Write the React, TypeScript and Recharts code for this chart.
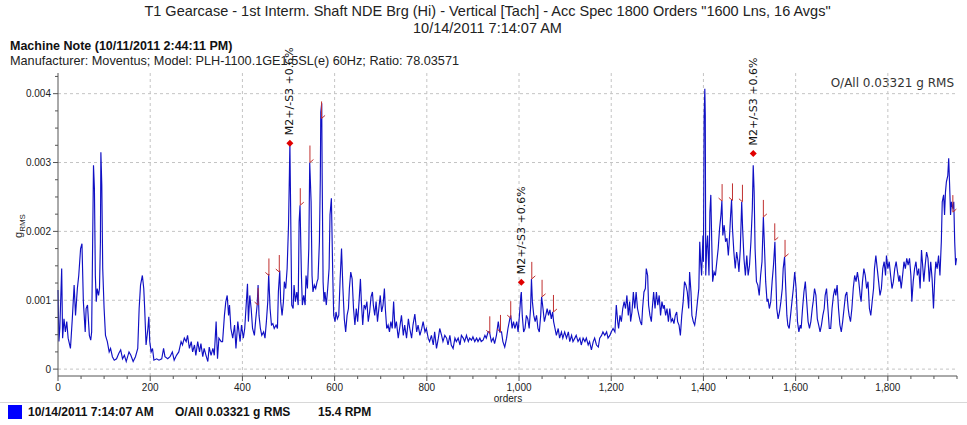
import React from "react";
import { CartesianGrid, ComposedChart, Line, Scatter, XAxis, YAxis } from "recharts";

const NARROW = '"Liberation Sans Narrow", "Arial Narrow", "Liberation Sans", Arial, sans-serif';
const SANS = '"DejaVu Sans", Verdana, sans-serif';

const titleLines = [
  'T1 Gearcase - 1st Interm. Shaft NDE Brg (Hi) - Vertical [Tach] - Acc Spec 1800 Orders "1600 Lns, 16 Avgs"',
  "10/14/2011 7:14:07 AM",
];
const machineNote = "Machine Note (10/11/2011 2:44:11 PM)";
const machineInfo = "Manufacturer: Moventus; Model: PLH-1100.1GE1.5SL(e) 60Hz; Ratio: 78.03571";
const overallText = "O/All 0.03321 g RMS";
const legendItems = ["10/14/2011 7:14:07 AM", "O/All 0.03321 g RMS", "15.4 RPM"];
const peakLabel = "M2+/-S3 +0.6%";

const xTicks = Array.from({ length: 40 }, (_, i) => i * 50);
const xGrid = [200, 400, 600, 800, 1000, 1200, 1400, 1600, 1800];
const yTicks = Array.from({ length: 18 }, (_, i) => i * 0.00025);
const yGrid = [0, 0.001, 0.002, 0.003, 0.004];

// [order, amplitude in mg RMS]
const spectrumMg: [number, number][] = [
  [0, 1.15], [2, 0.4], [4, 0.6], [8, 1.46], [10, 0.45], [13, 0.73], [16, 0.54], [19, 0.69], [22, 0.45],
  [27, 0.3], [31, 0.73], [35, 1.22], [38, 0.78], [42, 1.17], [45, 1.36], [49, 1.75], [52, 1.82], [55, 0.98],
  [59, 0.54], [61, 0.88], [64, 0.93], [68, 0.49], [71, 0.42], [73, 0.54], [75, 1.75], [77, 2.96], [79, 2.62],
  [81, 1.36], [83, 0.98], [85, 1.17], [88, 1.07], [90, 1.17], [92, 1.85], [93, 3.15], [95, 2.67], [97, 1.46],
  [100, 0.88], [103, 0.49], [107, 0.4], [111, 0.25], [114, 0.3], [118, 0.18], [122, 0.13], [127, 0.15],
  [132, 0.23], [136, 0.28], [140, 0.15], [144, 0.2], [148, 0.11], [154, 0.25], [158, 0.2], [163, 0.11],
  [168, 0.18], [173, 0.3], [176, 0.88], [179, 1.22], [183, 1.36], [186, 1.17], [188, 0.88], [191, 0.35],
  [195, 0.59], [197, 0.76], [199, 0.4], [202, 0.25], [205, 0.3], [208, 0.13], [214, 0.15], [219, 0.13],
  [225, 0.15], [229, 0.3], [232, 0.18], [238, 0.15], [243, 0.18], [248, 0.25], [252, 0.13], [257, 0.2],
  [262, 0.25], [267, 0.4], [270, 0.35], [274, 0.45], [278, 0.4], [281, 0.49], [285, 0.3], [289, 0.4],
  [292, 0.25], [296, 0.35], [299, 0.2], [303, 0.4], [307, 0.25], [310, 0.37], [314, 0.18], [317, 0.3],
  [321, 0.2], [325, 0.11], [328, 0.32], [332, 0.2], [336, 0.3], [339, 0.2], [343, 0.69], [346, 0.15],
  [349, 0.45], [354, 0.4], [357, 0.4], [361, 0.78], [364, 0.98], [367, 1.07], [370, 0.78], [372, 0.93],
  [375, 0.59], [379, 0.45], [383, 0.64], [386, 0.3], [390, 0.69], [395, 0.4], [398, 0.64], [402, 0.45],
  [405, 0.59], [409, 1.02], [411, 1.24], [413, 0.69], [416, 1.07], [419, 0.88], [422, 0.59], [426, 0.49],
  [429, 0.73], [432, 0.93], [434, 1.22], [436, 0.78], [439, 0.59], [442, 0.49], [446, 0.54], [449, 0.45],
  [452, 0.69], [455, 0.98], [457, 1.38], [460, 0.88], [463, 0.64], [466, 0.66], [469, 0.59], [473, 0.64],
  [476, 0.59], [478, 1.12], [481, 1.43], [483, 0.98], [486, 0.78], [489, 0.98], [491, 1.27], [494, 1.17],
  [497, 1.46], [500, 2.09], [502, 2.86], [503, 3.28], [505, 2.09], [507, 0.93], [510, 0.88], [512, 1.22],
  [515, 0.98], [518, 1.12], [521, 0.93], [523, 2.14], [525, 2.38], [528, 1.36], [530, 0.93], [533, 1.07],
  [536, 0.93], [538, 1.36], [541, 1.17], [544, 1.75], [546, 3.0], [549, 2.43], [551, 1.36], [553, 1.12],
  [556, 1.22], [559, 1.17], [562, 1.27], [564, 1.31], [567, 1.85], [569, 2.77], [570, 3.73], [572, 3.86],
  [573, 2.81], [575, 1.27], [577, 0.98], [579, 1.12], [582, 0.93], [585, 1.17], [588, 1.46], [590, 2.24],
  [593, 2.48], [596, 1.36], [598, 0.78], [601, 0.69], [603, 0.83], [606, 0.73], [609, 0.78], [612, 1.31],
  [615, 1.75], [618, 1.17], [621, 0.73], [624, 0.54], [627, 0.78], [630, 0.88], [632, 1.17], [635, 1.41],
  [638, 1.31], [641, 0.88], [644, 0.64], [647, 0.88], [650, 0.69], [653, 0.98], [656, 1.31], [658, 0.98],
  [661, 0.64], [664, 0.93], [667, 0.88], [670, 0.98], [673, 0.69], [676, 0.83], [679, 1.05], [682, 1.12],
  [684, 0.93], [687, 0.78], [690, 0.98], [693, 0.69], [696, 0.88], [699, 1.07], [702, 0.83], [705, 0.93],
  [708, 1.17], [710, 0.88], [713, 0.59], [716, 0.64], [719, 0.54], [722, 0.69], [725, 0.59], [728, 0.98],
  [731, 0.59], [734, 0.69], [738, 0.45], [741, 0.59], [745, 0.78], [749, 0.49], [752, 0.64], [756, 0.45],
  [760, 0.73], [763, 0.59], [767, 0.45], [770, 0.64], [774, 0.8], [778, 0.54], [781, 0.64], [785, 0.49],
  [789, 0.59], [792, 0.69], [796, 0.54], [799, 0.59], [803, 0.45], [806, 0.4], [810, 0.49], [814, 0.35],
  [817, 0.54], [821, 0.3], [825, 0.45], [828, 0.59], [832, 0.49], [835, 0.4], [839, 0.49], [843, 0.45],
  [846, 0.35], [850, 0.49], [853, 0.35], [857, 0.3], [861, 0.45], [864, 0.4], [868, 0.45], [872, 0.35],
  [875, 0.49], [879, 0.45], [882, 0.4], [886, 0.49], [890, 0.4], [893, 0.45], [897, 0.42], [900, 0.47],
  [904, 0.4], [908, 0.45], [911, 0.4], [915, 0.45], [918, 0.4], [922, 0.42], [926, 0.49], [929, 0.45],
  [933, 0.54], [936, 0.54], [940, 0.4], [944, 0.45], [947, 0.37], [951, 0.49], [955, 0.69], [958, 0.54],
  [962, 0.54], [965, 0.4], [969, 0.32], [973, 0.45], [976, 0.59], [980, 0.73], [982, 0.78], [985, 0.59],
  [988, 0.69], [991, 0.59], [995, 0.69], [998, 0.54], [1002, 0.88], [1004, 1.07], [1005, 1.12], [1007, 0.78],
  [1010, 0.54], [1013, 0.59], [1016, 0.78], [1019, 0.73], [1022, 0.59], [1025, 0.88], [1027, 1.31],
  [1029, 0.98], [1032, 0.78], [1035, 0.69], [1038, 0.78], [1041, 0.59], [1044, 0.54], [1047, 0.78],
  [1049, 1.05], [1052, 0.88], [1055, 0.69], [1058, 0.78], [1061, 0.88], [1064, 0.78], [1067, 0.86],
  [1070, 0.73], [1073, 0.83], [1075, 0.69], [1078, 0.59], [1081, 0.49], [1085, 0.59], [1088, 0.45],
  [1092, 0.54], [1095, 0.45], [1099, 0.54], [1103, 0.45], [1107, 0.54], [1110, 0.4], [1114, 0.49],
  [1117, 0.4], [1121, 0.45], [1124, 0.49], [1128, 0.4], [1132, 0.45], [1135, 0.35], [1139, 0.45],
  [1143, 0.4], [1146, 0.45], [1150, 0.35], [1153, 0.4], [1157, 0.28], [1161, 0.4], [1164, 0.45],
  [1168, 0.35], [1172, 0.32], [1175, 0.45], [1179, 0.49], [1182, 0.54], [1186, 0.49], [1190, 0.54],
  [1193, 0.45], [1197, 0.49], [1200, 0.54], [1204, 0.59], [1208, 0.54], [1211, 0.93], [1214, 0.69],
  [1216, 0.59], [1219, 0.78], [1222, 0.69], [1225, 0.88], [1228, 0.98], [1231, 0.88], [1234, 1.07],
  [1237, 0.78], [1240, 0.98], [1242, 0.69], [1245, 0.83], [1248, 1.12], [1251, 0.88], [1254, 1.12],
  [1257, 0.88], [1260, 0.78], [1263, 0.69], [1266, 0.64], [1268, 0.88], [1271, 1.12], [1274, 1.17],
  [1276, 1.46], [1279, 1.36], [1281, 0.93], [1284, 0.78], [1287, 0.69], [1289, 0.88], [1292, 1.12],
  [1295, 0.88], [1298, 1.12], [1301, 0.93], [1304, 1.07], [1307, 0.78], [1310, 0.98], [1313, 0.88],
  [1315, 0.93], [1318, 0.78], [1321, 0.88], [1324, 0.69], [1327, 0.88], [1330, 0.69], [1333, 0.73],
  [1336, 0.66], [1339, 0.78], [1342, 0.83], [1344, 0.69], [1347, 0.64], [1350, 0.49], [1353, 0.78],
  [1356, 0.98], [1359, 1.27], [1362, 1.22], [1365, 1.12], [1368, 0.88], [1370, 1.41], [1373, 1.12],
  [1375, 0.78], [1378, 0.69], [1381, 0.64], [1384, 0.78], [1387, 0.98], [1390, 1.17], [1392, 1.85],
  [1394, 1.56], [1396, 1.36], [1399, 1.94], [1400, 1.56], [1401.5, 3.64], [1403, 4.07], [1404, 3.69],
  [1405, 1.36], [1407, 1.75], [1409, 1.94], [1412, 1.36], [1414, 2.28], [1416, 2.53], [1418, 1.85],
  [1420, 1.27], [1423, 1.41], [1426, 1.36], [1429, 1.56], [1432, 1.75], [1435, 2.04], [1438, 2.24],
  [1440, 2.44], [1442, 1.94], [1445, 2.09], [1448, 1.85], [1451, 1.9], [1454, 1.65], [1456, 1.85],
  [1459, 2.24], [1461, 2.46], [1463, 2.04], [1466, 1.7], [1469, 1.46], [1472, 1.7], [1475, 1.56],
  [1477, 1.41], [1480, 1.75], [1483, 2.43], [1485, 2.04], [1488, 1.6], [1491, 1.36], [1494, 1.65],
  [1497, 1.36], [1500, 1.51], [1503, 1.85], [1506, 2.33], [1508, 2.96], [1510, 2.57], [1512, 1.75],
  [1515, 1.27], [1518, 1.22], [1521, 1.07], [1524, 1.36], [1527, 1.56], [1530, 2.21], [1532, 1.85],
  [1535, 1.27], [1538, 0.98], [1540, 1.02], [1543, 0.88], [1546, 0.98], [1549, 1.27], [1552, 1.51],
  [1555, 1.85], [1557, 1.36], [1559, 0.88], [1562, 0.73], [1565, 0.83], [1568, 0.98], [1571, 1.17],
  [1573, 1.46], [1576, 1.63], [1578, 1.27], [1581, 0.78], [1583, 0.64], [1586, 0.59], [1589, 0.78],
  [1592, 0.98], [1595, 1.17], [1598, 1.41], [1601, 1.17], [1604, 0.69], [1607, 0.54], [1610, 0.64],
  [1612, 0.59], [1615, 0.88], [1618, 1.12], [1621, 1.27], [1624, 0.98], [1627, 0.69], [1630, 0.59],
  [1633, 0.69], [1636, 0.88], [1638, 0.98], [1641, 1.17], [1644, 1.07], [1647, 0.73], [1650, 0.64],
  [1653, 0.54], [1656, 0.64], [1659, 0.78], [1662, 0.88], [1664, 1.07], [1667, 1.17], [1670, 0.88],
  [1673, 0.59], [1676, 0.59], [1679, 0.88], [1682, 1.07], [1685, 1.17], [1687, 1.07], [1690, 1.22],
  [1693, 0.88], [1696, 0.64], [1699, 0.54], [1702, 0.69], [1705, 0.88], [1708, 1.07], [1711, 1.12],
  [1714, 0.88], [1716, 0.78], [1719, 0.69], [1722, 0.88], [1725, 1.17], [1728, 1.36], [1731, 1.27],
  [1734, 1.41], [1737, 1.27], [1740, 1.07], [1742, 0.98], [1745, 1.27], [1748, 1.46], [1751, 1.36],
  [1754, 1.17], [1757, 1.27], [1760, 0.88], [1763, 0.78], [1766, 0.98], [1769, 1.17], [1771, 1.46],
  [1774, 1.65], [1777, 1.46], [1780, 1.27], [1783, 1.07], [1786, 1.17], [1789, 1.46], [1792, 1.56],
  [1795, 1.36], [1797, 1.65], [1800, 1.46], [1803, 1.56], [1806, 1.36], [1809, 1.17], [1812, 1.27],
  [1815, 1.46], [1818, 1.56], [1821, 1.41], [1824, 1.27], [1826, 1.36], [1829, 1.17], [1832, 1.36],
  [1835, 1.56], [1838, 1.46], [1841, 1.61], [1844, 1.51], [1847, 1.61], [1850, 1.36], [1852, 0.98],
  [1855, 1.27], [1858, 1.46], [1861, 1.56], [1864, 1.36], [1867, 1.46], [1870, 1.17], [1873, 1.73],
  [1876, 1.46], [1878, 1.27], [1881, 1.51], [1884, 1.7], [1887, 1.61], [1890, 1.27], [1893, 1.56],
  [1896, 1.31], [1899, 0.88], [1902, 1.36], [1904, 1.56], [1907, 1.46], [1910, 1.65], [1913, 1.36],
  [1916, 1.85], [1918, 2.43], [1921, 2.53], [1923, 2.24], [1925, 2.57], [1927, 2.72], [1930, 2.81],
  [1932, 3.06], [1934, 2.67], [1936, 2.24], [1938, 2.43], [1941, 2.33], [1943, 2.43], [1945, 1.85],
  [1947, 1.51], [1949, 1.61],
];

// harmonic cursor marks: [order, mg, tick side (-1 left, 1 right)]
const harmonicMarks: [number, number, number][] = [
  [434, 0.93, -1], [457.5, 1.36, -1], [480, 1.41, -1], [525.5, 2.38, 1], [546.5, 3.0, 1], [571.7, 3.64, 1],
  [936.6, 0.52, -1], [959.8, 0.54, -1], [982, 0.74, -1], [1027.7, 1.31, 1], [1050, 1.05, 1], [1074.7, 0.83, 1],
  [1440.5, 2.44, -1], [1463, 2.45, -1], [1484.6, 2.43, -1], [1530, 2.21, 1], [1554.7, 1.87, 1], [1577, 1.63, 1],
  [1941, 2.28, 1],
];

// labelled peaks: [order, mg]
const peakMarks: [number, number][] = [
  [503, 3.28],
  [1005, 1.26],
  [1508, 3.13],
];

const series = spectrumMg.map(([order, mg]) => ({ order, value: mg / 1000 }));
const harmonics = harmonicMarks.map(([order, mg, side]) => ({ order, value: mg / 1000, side }));
const peaks = peakMarks.map(([order, mg]) => ({ order, value: mg / 1000 }));

const XTick = (props: any) => {
  const { x, y, payload } = props;
  const major = payload.value % 200 === 0;
  return (
    <g>
      <line x1={x} y1={y} x2={x} y2={y + (major ? 5 : 3)} stroke="#555" />
      {major && (
        <text x={x} y={y + 15} textAnchor="middle" fontSize={10} fontFamily={NARROW} fill="#222">
          {payload.value.toLocaleString("en-US")}
        </text>
      )}
    </g>
  );
};

const YTick = (props: any) => {
  const { x, y, payload } = props;
  const v = payload.value * 1000;
  const major = Math.abs(v - Math.round(v)) < 1e-6;
  return (
    <g>
      <line x1={x - (major ? 5 : 3)} y1={y} x2={x} y2={y} stroke="#555" />
      {major && (
        <text x={x - 7} y={y + 3.5} textAnchor="end" fontSize={10} fontFamily={NARROW} fill="#222">
          {v === 0 ? "0" : payload.value.toFixed(3)}
        </text>
      )}
    </g>
  );
};

const HarmonicShape = (props: any) => {
  const { cx, cy, payload } = props;
  return (
    <g stroke="#c03030" strokeWidth={1}>
      <line x1={cx} y1={cy - 17} x2={cx} y2={cy} />
      <line x1={cx} y1={cy} x2={cx + payload.side * 3.5} y2={cy - 3} />
    </g>
  );
};

const PeakShape = (props: any) => {
  const { cx, cy } = props;
  return (
    <g>
      <path d={`M${cx},${cy - 3.5}L${cx + 3.5},${cy}L${cx},${cy + 3.5}L${cx - 3.5},${cy}Z`} fill="#e00000" />
      <text
        transform={`translate(${cx},${cy - 8}) rotate(-90)`}
        dominantBaseline="central"
        fontSize={11}
        fontFamily={SANS}
        fill="#111"
      >
        {peakLabel}
      </text>
    </g>
  );
};

const YLabel = () => (
  <text transform="translate(22,226) rotate(-90)" textAnchor="middle" fontFamily={NARROW} fill="#222">
    <tspan fontSize={11}>g</tspan>
    <tspan fontSize={8} dy={3}>RMS</tspan>
  </text>
);

export default function App() {
  return (
    <div style={{ position: "absolute", left: 0, top: 0, width: 967, height: 425, background: "#fff" }}>
      <div
        style={{
          position: "absolute", left: 4, top: 3, width: 967, textAlign: "center",
          fontFamily: NARROW, fontSize: 14.5, lineHeight: "17px", color: "#222",
        }}
      >
        {titleLines.map((t) => (
          <div key={t}>{t}</div>
        ))}
      </div>
      <div style={{ position: "absolute", left: 10, top: 39, fontFamily: NARROW, fontSize: 12.5, fontWeight: "bold", color: "#111" }}>
        {machineNote}
      </div>
      <div style={{ position: "absolute", left: 10, top: 54, fontFamily: NARROW, fontSize: 12.7, color: "#222" }}>
        {machineInfo}
      </div>
      <div style={{ position: "absolute", right: 13, top: 76, fontFamily: SANS, fontSize: 12, color: "#333" }}>
        {overallText}
      </div>
      <ComposedChart width={967} height={425} margin={{ top: 73, right: 10, bottom: 19, left: 0 }} style={{ position: "absolute", left: 0, top: 0 }}>
        <CartesianGrid stroke="#c4c4c4" strokeDasharray="3 3" horizontalValues={yGrid} verticalValues={xGrid} />
        <XAxis
          dataKey="order" type="number" domain={[0, 1950]} ticks={xTicks} interval={0}
          tick={<XTick />} tickLine={false} tickSize={0} tickMargin={0} height={30}
          axisLine={{ stroke: "#555" }}
        />
        <YAxis
          type="number" domain={[-0.0001, 0.0043]} ticks={yTicks} interval={0}
          tick={<YTick />} tickLine={false} tickSize={0} tickMargin={0} width={58}
          axisLine={{ stroke: "#555" }}
        />
        <Line data={series} dataKey="value" stroke="#1010c4" strokeWidth={1.15} dot={false} isAnimationActive={false} />
        <Scatter data={harmonics} dataKey="value" shape={<HarmonicShape />} isAnimationActive={false} />
        <Scatter data={peaks} dataKey="value" shape={<PeakShape />} isAnimationActive={false} />
        <YLabel />
        <text x={508} y={402} textAnchor="middle" fontSize={10} fontFamily={NARROW} fill="#222">orders</text>
      </ComposedChart>
      <div style={{ position: "absolute", left: 0, top: 402, width: 967, height: 1, background: "#d8d8d8" }} />
      <div style={{ position: "absolute", left: 8, top: 405, width: 14, height: 14, background: "#0000ff" }} />
      {legendItems.map((t, i) => (
        <div
          key={t}
          style={{
            position: "absolute", left: [28, 175, 318][i], top: 405, fontFamily: NARROW,
            fontSize: 12, fontWeight: "bold", color: "#111", lineHeight: "14px",
          }}
        >
          {t}
        </div>
      ))}
    </div>
  );
}
